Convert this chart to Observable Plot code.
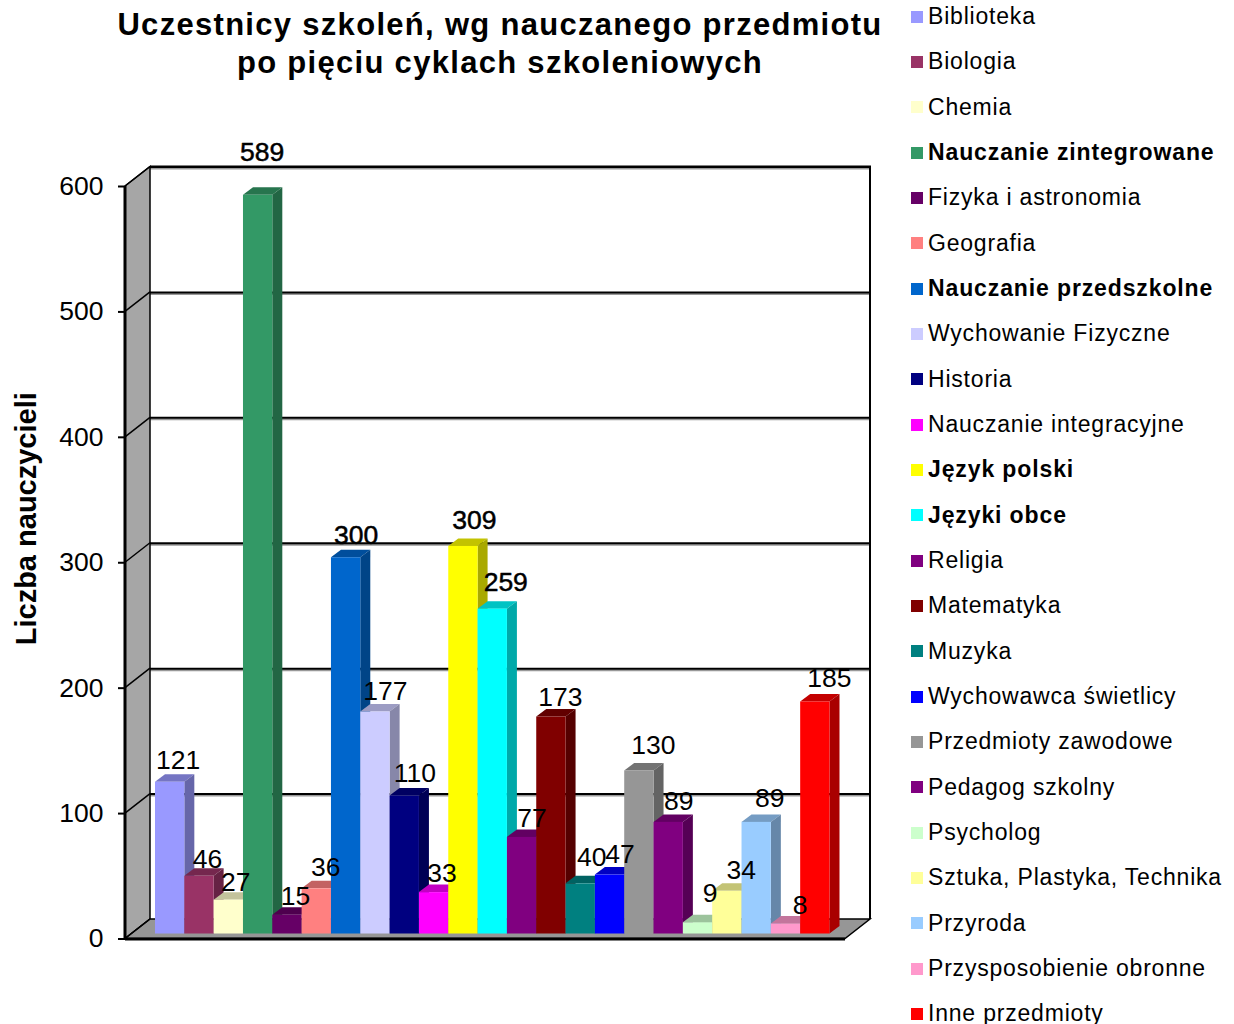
<!DOCTYPE html>
<html lang="pl">
<head>
<meta charset="utf-8">
<script src="https://cdn.jsdelivr.net/npm/d3@7"></script>
<script src="https://cdn.jsdelivr.net/npm/@observablehq/plot@0.6"></script>
<style>
  html, body { margin: 0; padding: 0; background: #fff; width: 1234px; height: 1024px; overflow: hidden; font-family: "Liberation Sans", Arial, sans-serif; color: #000; }
  #chart { position: absolute; left: 0; top: 0; }
  #title { position: absolute; left: 100px; width: 800px; top: 6px; text-align: center; font-weight: bold; font-size: 31px; line-height: 38px; letter-spacing: 1.3px; white-space: nowrap; }
  #legend { position: absolute; left: 911px; top: -6px; width: 323px; }
  .row { height: 45.33px; display: flex; align-items: center; font-size: 23px; letter-spacing: 0.8px; white-space: nowrap; }
  .row i { display: block; width: 12px; height: 12px; margin-right: 5px; flex: none; }
  .row.strong { font-weight: bold; letter-spacing: 0.88px; }
</style>
</head>
<body>
<div id="chart"></div>
<div id="title">Uczestnicy szkoleń, wg nauczanego przedmiotu<br>po pięciu cyklach szkoleniowych</div>
<div id="legend"></div>
<script>
const subjects = ["Biblioteka","Biologia","Chemia","Nauczanie zintegrowane","Fizyka i astronomia","Geografia","Nauczanie przedszkolne","Wychowanie Fizyczne","Historia","Nauczanie integracyjne","Język polski","Języki obce","Religia","Matematyka","Muzyka","Wychowawca świetlicy","Przedmioty zawodowe","Pedagog szkolny","Psycholog","Sztuka, Plastyka, Technika","Przyroda","Przysposobienie obronne","Inne przedmioty"];
const counts = [121,46,27,589,15,36,300,177,110,33,309,259,77,173,40,47,130,89,9,34,89,8,185];
const colors = ["#9999ff","#993366","#ffffcc","#339966","#660066","#ff8080","#0066cc","#ccccff","#000080","#ff00ff","#ffff00","#00ffff","#800080","#800000","#008080","#0000ff","#969696","#800080","#ccffcc","#ffff99","#99ccff","#ff99cc","#ff0000"];
const strongSubjects = ["Nauczanie zintegrowane","Nauczanie przedszkolne","Język polski","Języki obce"];
const yTicks = [0,100,200,300,400,500,600];

// Look of the drawing (not data): pseudo-3D depth and label nudges in pixels
const wallDepth = [25, -19.5];
const barDepth = [10, -7.5];
const barLift = -5;
const labelDx = [8,8,7,4,8,9,10,10,10,8,11,13,10,9,11,10,14,10,12,14,13,14,14];
const labelDy = [-27,-22,-23,-48,-24,-26,-27,-25.5,-27.5,-24,-31,-32,-24,-24.5,-31,-26,-30,-26,-34,-26,-29,-23,-28.5];

const rows = subjects.map((subject, i) => ({subject, count: counts[i], color: colors[i]}));
const pts = a => a.map(p => p.join(",")).join(" ");
const shade = (c, k) => d3.rgb(c).darker(k).formatHex();

function backdrop(index, {y}, channels, {marginLeft, width, marginRight}) {
  const g = d3.create("svg:g");
  const l = marginLeft, r = width - marginRight, [dx, dy] = wallDepth;
  const y0 = y(0), y1 = y(600);
  g.append("polygon").attr("fill", "#a6a6a6").attr("stroke", "#000").attr("stroke-width", 1.5)
    .attr("points", pts([[l, y0], [l + dx, y0 + dy], [l + dx, y1 + dy], [l, y1]]));
  g.append("polygon").attr("fill", "#969696").attr("stroke", "#000").attr("stroke-width", 1.5)
    .attr("points", pts([[l, y0], [l + dx, y0 + dy], [r + dx, y0 + dy], [r, y0]]));
  g.append("path").attr("fill", "none").attr("stroke", "#000").attr("stroke-width", 2)
    .attr("d", `M${l + dx},${y1 + dy}H${r + dx}V${y0 + dy}`);
  for (const t of yTicks)
    g.append("line").attr("stroke", "#000").attr("stroke-width", 1.5)
      .attr("x1", l).attr("y1", y(t)).attr("x2", l + dx).attr("y2", y(t) + dy);
  g.append("line").attr("stroke", "#000").attr("stroke-width", 3)
    .attr("x1", l).attr("x2", l).attr("y1", y1).attr("y2", y0 + 1);
  return g.node();
}

function prismFaces(index, scales, values, dimensions, context, next) {
  const g = d3.create("svg:g");
  const w = scales.x.bandwidth(), [dx, dy] = barDepth;
  for (const i of index) {
    const d = rows[i];
    const x0 = scales.x(d.subject), x1 = x0 + w;
    const top = scales.y(d.count) + barLift, bottom = scales.y(0) + barLift;
    g.append("polygon").attr("fill", shade(d.color, 0.75))
      .attr("points", pts([[x0, top], [x0 + dx, top + dy], [x1 + dx, top + dy], [x1, top]]));
    g.append("polygon").attr("fill", shade(d.color, 1.15))
      .attr("points", pts([[x1, top], [x1 + dx, top + dy], [x1 + dx, bottom + dy], [x1, bottom]]));
  }
  g.node().appendChild(next(index, scales, values, dimensions, context));
  return g.node();
}

const plot = Plot.plot({
  width: 1234,
  height: 1024,
  marginLeft: 125,
  marginRight: 389,
  marginTop: 186,
  marginBottom: 85.5,
  style: {fontFamily: "'Liberation Sans', Arial, sans-serif", background: "transparent", color: "#000"},
  x: {type: "band", domain: subjects, range: [155, 829.5], padding: 0, round: false, axis: null},
  y: {domain: [0, 600], axis: null},
  marks: [
    Plot.ruleY(yTicks.slice(1), {stroke: "#999", strokeWidth: 2, dx: wallDepth[0], dy: wallDepth[1] + 1.5}),
    Plot.ruleY(yTicks.slice(1), {stroke: "#000", strokeWidth: 2, dx: wallDepth[0], dy: wallDepth[1]}),
    backdrop,
    Plot.ruleY([0], {stroke: "#000", strokeWidth: 3}),
    Plot.axisY({ticks: yTicks, tickSize: 7, tickPadding: 15, fontSize: 26.5, strokeWidth: 2, label: null, stroke: "#000", fill: "#000"}),
    Plot.barY(rows, {x: "subject", y: "count", fill: "color", dy: barLift, render: prismFaces}),
    ...rows.map((d, i) => Plot.text([d], {
      x: "subject", y: "count", text: "count",
      dx: labelDx[i], dy: labelDy[i],
      fontSize: 26.5, fill: "#000",
      stroke: strongSubjects.includes(d.subject) ? "#000" : "none",
      strokeWidth: 0.5
    })),
    Plot.text(["Liczba nauczycieli"], {
      frameAnchor: "left", textAnchor: "middle", rotate: -90, dx: -99, dy: -44,
      fontSize: 29, fontWeight: "bold", fill: "#000"
    })
  ]
});
document.getElementById("chart").appendChild(plot);

const legend = d3.select("#legend");
rows.forEach(d => {
  const row = legend.append("div").attr("class", "row" + (strongSubjects.includes(d.subject) ? " strong" : ""));
  row.append("i").style("background", d.color);
  row.append("span").text(d.subject);
});
</script>
</body>
</html>
